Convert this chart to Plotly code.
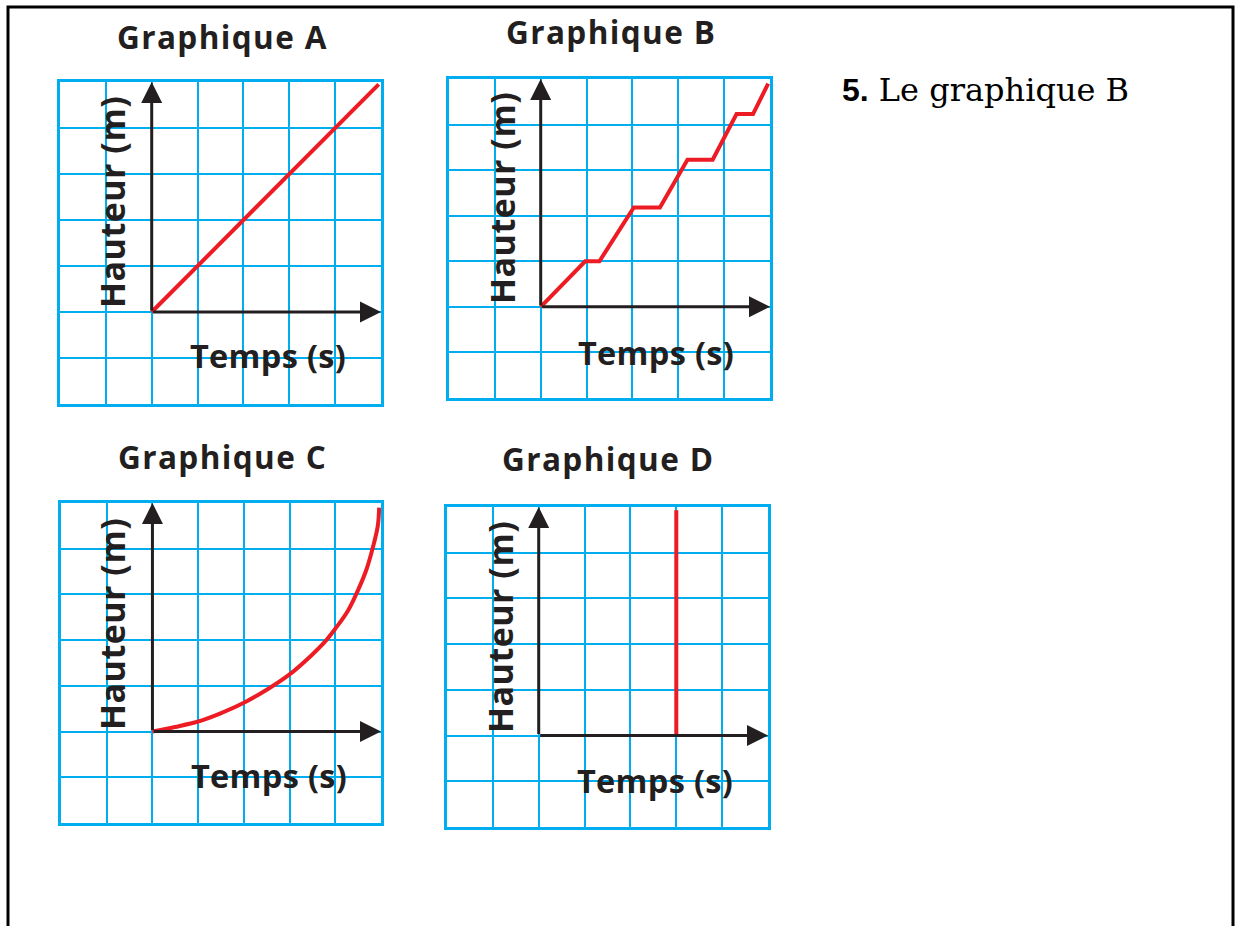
import plotly.graph_objects as go

W, H = 1237, 926

# ---- data (grid units) ----
titles = ["Graphique A", "Graphique B", "Graphique C", "Graphique D"]
x_label = "Temps (s)"
y_label = "Hauteur (m)"

time_A = [0, 4.95]
height_A = [0, 4.95]

time_B = [0, 0.97, 1.28, 2.03, 2.6, 3.2, 3.75, 4.27, 4.63, 4.96]
height_B = [0, 1.0, 1.0, 2.18, 2.18, 3.23, 3.23, 4.23, 4.23, 4.9]

time_C = [0, 0.49, 1.0, 1.49, 2.0, 2.51, 3.0, 3.47, 3.76, 4.0, 4.28, 4.5, 4.68, 4.83, 4.93, 4.96]
height_C = [0, 0.10, 0.22, 0.40, 0.63, 0.92, 1.25, 1.66, 1.95, 2.25, 2.65, 3.1, 3.54, 4.06, 4.5, 4.9]

time_D = [3, 3]
height_D = [0, 4.93]

answer_num = "5."
answer_text = "Le graphique B"

series = [(time_A, height_A), (time_B, height_B), (time_C, height_C), (time_D, height_D)]

# ---- layout geometry (pixels) ----
boxes = [  # x0, x1, y_top, y_bottom
    (60, 381, 82, 404),
    (449, 770, 79, 398),
    (61, 381, 503, 823),
    (447, 768, 507, 827),
]
title_pos = [(222, 36), (611, 31), (222, 456), (608, 458)]
xlab_pos = [(268, 355), (656, 352), (269, 775), (655, 780)]
ylab_pos = [(112, 202), (502, 198), (112, 624), (500, 627)]

BLUE = "#00AEEF"
RED = "#ED1C24"
INK = "#231F20"


def px(x):
    return x / W


def py(y):
    return 1 - y / H


fig = go.Figure()
annotations = []

for i, ((tx, hy), (x0, x1, yt, yb)) in enumerate(zip(series, boxes), start=1):
    xa = "x" if i == 1 else f"x{i}"
    ya = "y" if i == 1 else f"y{i}"
    fig.add_trace(go.Scatter(
        x=tx, y=hy, mode="lines", xaxis=xa, yaxis=ya,
        line=dict(color=RED, width=4, shape="spline" if i == 3 else "linear"),
        hoverinfo="skip", showlegend=False,
    ))
    common = dict(
        range=[-2, 5], tick0=0, dtick=1, showgrid=True, gridcolor=BLUE, gridwidth=2,
        showline=True, linecolor=BLUE, linewidth=3, mirror=True,
        showticklabels=False, ticks="", zeroline=False, fixedrange=True,
    )
    fig.update_layout(**{
        f"xaxis{'' if i == 1 else i}": dict(domain=[px(x0), px(x1)], anchor=ya, **common),
        f"yaxis{'' if i == 1 else i}": dict(domain=[py(yb), py(yt)], anchor=xa, **common),
    })
    # axes arrows
    for (tipx, tipy) in [(5, 0), (0, 5)]:
        annotations.append(dict(
            x=tipx, y=tipy, ax=0, ay=0, xref=xa, yref=ya, axref=xa, ayref=ya,
            text="", showarrow=True, arrowhead=2, arrowsize=1.4, arrowwidth=3,
            arrowcolor=INK, standoff=0,
        ))
    # titles & labels
    t = title_pos[i - 1]
    annotations.append(dict(x=px(t[0]), y=py(t[1]), xref="paper", yref="paper",
                            text=f"<b><span style='letter-spacing:1.4px'>{titles[i-1]}</span></b>",
                            showarrow=False, xanchor="center", yanchor="middle",
                            font=dict(family="Open Sans", size=31.5, color=INK)))
    t = xlab_pos[i - 1]
    annotations.append(dict(x=px(t[0]), y=py(t[1]), xref="paper", yref="paper",
                            text=f"<b><span style='letter-spacing:0.3px'>{x_label}</span></b>",
                            showarrow=False, xanchor="center", yanchor="middle",
                            font=dict(family="Open Sans", size=32.5, color=INK)))
    t = ylab_pos[i - 1]
    annotations.append(dict(x=px(t[0]), y=py(t[1]), xref="paper", yref="paper",
                            text=f"<b><span style='letter-spacing:0.5px'>{y_label}</span></b>",
                            showarrow=False, textangle=-90,
                            xanchor="center", yanchor="middle",
                            font=dict(family="Open Sans", size=34, color=INK)))

annotations.append(dict(
    x=px(840), y=py(90), xref="paper", yref="paper", showarrow=False,
    xanchor="left", yanchor="middle",
    text=f"<span style='font-family:Liberation Sans;font-weight:bold'>{answer_num}</span> {answer_text}",
    font=dict(family="DejaVu Serif", size=32, color="#000000"),
))

fig.update_layout(
    width=W, height=H, margin=dict(l=0, r=0, t=0, b=0),
    paper_bgcolor="white", plot_bgcolor="white",
    annotations=annotations,
    shapes=[dict(type="rect", xref="paper", yref="paper",
                 x0=px(8), x1=px(1233), y0=-0.05, y1=py(7),
                 line=dict(color="black", width=3))],
)

fig.write_html(
    "out.html",
    config={"displayModeBar": False, "staticPlot": True},
    post_script="document.body.style.margin='0';document.body.style.overflow='hidden';",
)
